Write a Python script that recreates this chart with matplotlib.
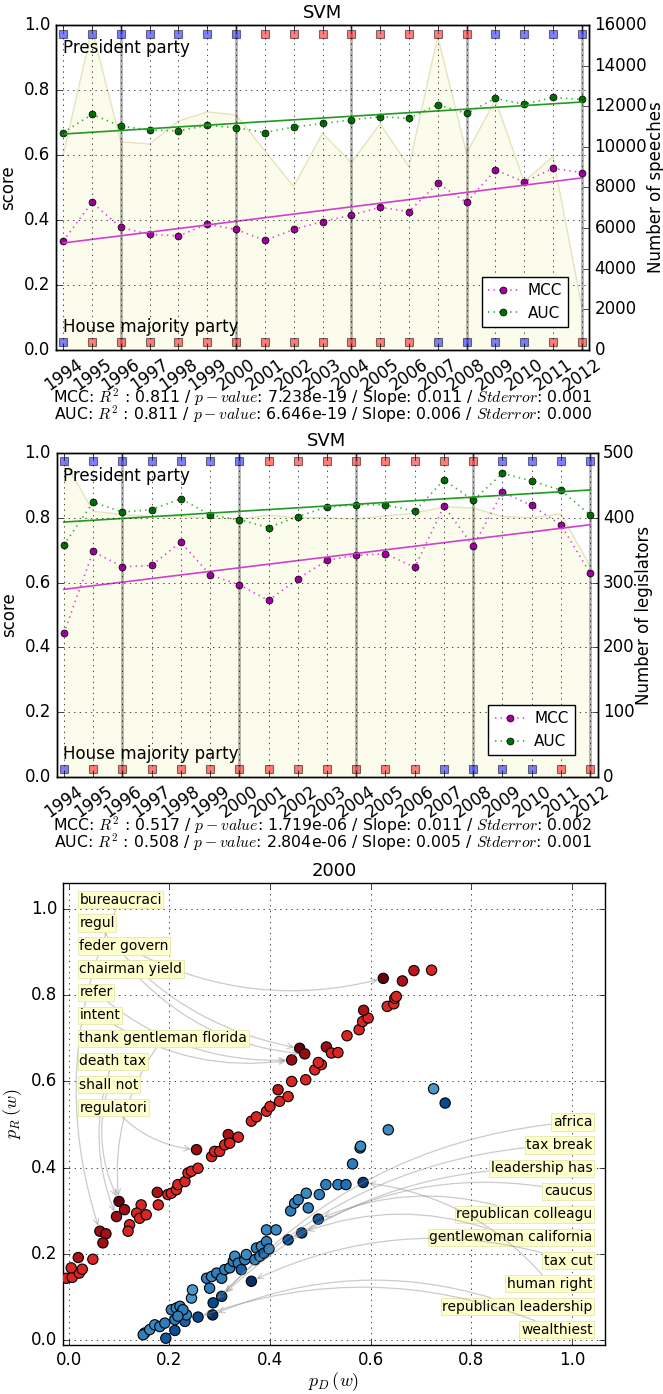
import numpy as np
import matplotlib
matplotlib.use('Agg')
import matplotlib.pyplot as plt

plt.style.use('classic')
plt.rcParams.update({
    'font.family': ['DejaVu Sans'],
    'mathtext.fontset': 'cm',
    'figure.facecolor': 'white',
    'savefig.facecolor': 'white',
})

# ---------------- data ----------------
years = list(range(1994, 2013))
election_years = [1996, 2000, 2004, 2008, 2012]
president_party = ['D'] * 7 + ['R'] * 8 + ['D'] * 4
house_party = ['D'] + ['R'] * 12 + ['D'] * 4 + ['R'] * 2

speech_mcc = [0.335, 0.454, 0.377, 0.356, 0.351, 0.387, 0.371, 0.337, 0.371, 0.395,
              0.415, 0.439, 0.426, 0.513, 0.454, 0.554, 0.517, 0.559, 0.546]
speech_auc = [0.669, 0.725, 0.689, 0.677, 0.674, 0.691, 0.684, 0.669, 0.686, 0.697,
              0.708, 0.718, 0.713, 0.755, 0.728, 0.774, 0.756, 0.777, 0.771]
n_speeches = [9600, 15800, 10250, 10140, 11270, 11720, 11570, 9800, 8040, 10670,
              9220, 11130, 9030, 15430, 9680, 12310, 8290, 9520, 2130]
speech_stats = ['MCC: $R^2$ : 0.811 / $p-value$: 7.238e-19 / Slope: 0.011 / $Stderror$: 0.001',
                'AUC: $R^2$ : 0.811 / $p-value$: 6.646e-19 / Slope: 0.006 / $Stderror$: 0.000']

legis_mcc = [0.443, 0.696, 0.649, 0.653, 0.725, 0.624, 0.593, 0.545, 0.611, 0.669,
             0.684, 0.689, 0.647, 0.836, 0.712, 0.879, 0.838, 0.778, 0.629]
legis_auc = [0.716, 0.848, 0.818, 0.825, 0.859, 0.809, 0.794, 0.770, 0.804, 0.833,
             0.840, 0.840, 0.820, 0.917, 0.854, 0.937, 0.914, 0.885, 0.809]
n_legislators = [490, 410, 405, 402, 402, 400, 398, 404, 400, 400,
                 398, 403, 407, 417, 415, 402, 400, 406, 325]
legis_stats = ['MCC: $R^2$ : 0.517 / $p-value$: 1.719e-06 / Slope: 0.011 / $Stderror$: 0.002',
               'AUC: $R^2$ : 0.508 / $p-value$: 2.804e-06 / Slope: 0.005 / $Stderror$: 0.001']

red_x = [-0.005, 0.007, 0.021, 0.027, 0.005, 0.019, 0.048, 0.062, 0.074, 0.068, 0.100, 0.111,
         0.095, 0.144, 0.135, 0.121, 0.118, 0.141, 0.154, 0.178, 0.176, 0.197, 0.204, 0.214,
         0.217, 0.231, 0.237, 0.244, 0.257, 0.254, 0.284, 0.290, 0.300, 0.310, 0.317, 0.337,
         0.320, 0.363, 0.373, 0.393, 0.400, 0.419, 0.436, 0.416, 0.443, 0.471, 0.489, 0.502,
         0.496, 0.443, 0.459, 0.469, 0.512, 0.522, 0.535, 0.553, 0.577, 0.584, 0.595, 0.586,
         0.633, 0.646, 0.648, 0.651, 0.625, 0.663, 0.686, 0.721]
red_y = [0.144, 0.146, 0.156, 0.165, 0.168, 0.192, 0.188, 0.253, 0.247, 0.226, 0.322, 0.303,
         0.287, 0.314, 0.295, 0.268, 0.253, 0.283, 0.291, 0.314, 0.343, 0.338, 0.341, 0.349,
         0.361, 0.368, 0.388, 0.392, 0.399, 0.442, 0.426, 0.438, 0.438, 0.453, 0.477, 0.471,
         0.457, 0.508, 0.518, 0.531, 0.542, 0.554, 0.565, 0.581, 0.600, 0.604, 0.627, 0.639,
         0.644, 0.650, 0.677, 0.664, 0.680, 0.666, 0.667, 0.706, 0.720, 0.739, 0.747, 0.765,
         0.774, 0.780, 0.793, 0.797, 0.839, 0.833, 0.857, 0.858]
red_shade = [0.7, 0.7, 0.7, 0.7, 0.7, 0.85, 0.7, 0.88, 0.88, 0.88, 1.0, 0.88,
             0.88, 0.7, 0.7, 0.7, 0.7, 0.7, 0.7, 0.7, 0.85, 0.7, 0.7, 0.7,
             0.7, 0.7, 0.7, 0.7, 0.7, 0.9, 0.7, 0.7, 0.7, 0.7, 0.85, 0.7,
             0.7, 0.7, 0.7, 0.7, 0.7, 0.7, 0.7, 0.8, 0.7, 0.7, 0.7, 0.7,
             0.7, 0.9, 1.0, 0.9, 0.88, 0.7, 0.7, 0.7, 0.7, 0.7, 0.7, 0.85,
             0.7, 0.7, 0.7, 0.7, 1.0, 0.85, 0.8, 0.7]

blue_x = [0.151, 0.148, 0.161, 0.171, 0.181, 0.191, 0.193, 0.211, 0.211, 0.204, 0.214, 0.221,
          0.224, 0.231, 0.234, 0.227, 0.217, 0.244, 0.246, 0.257, 0.286, 0.287, 0.304, 0.280,
          0.274, 0.284, 0.294, 0.304, 0.310, 0.320, 0.327, 0.330, 0.337, 0.343, 0.350, 0.353,
          0.363, 0.370, 0.373, 0.380, 0.383, 0.388, 0.393, 0.393, 0.412, 0.398, 0.436, 0.463,
          0.441, 0.449, 0.456, 0.472, 0.476, 0.496, 0.498, 0.511, 0.535, 0.551, 0.585, 0.564,
          0.579, 0.580, 0.635, 0.725, 0.748]
blue_y = [0.017, 0.013, 0.025, 0.036, 0.032, 0.040, 0.005, 0.023, 0.048, 0.071, 0.075, 0.079,
          0.063, 0.044, 0.059, 0.071, 0.056, 0.098, 0.117, 0.054, 0.059, 0.087, 0.102, 0.121,
          0.144, 0.148, 0.156, 0.144, 0.164, 0.168, 0.183, 0.195, 0.179, 0.164, 0.187, 0.199,
          0.137, 0.187, 0.214, 0.195, 0.218, 0.202, 0.229, 0.256, 0.256, 0.212, 0.233, 0.249,
          0.300, 0.318, 0.326, 0.341, 0.307, 0.281, 0.338, 0.361, 0.361, 0.361, 0.366, 0.409,
          0.446, 0.450, 0.488, 0.583, 0.550]
blue_shade = [0.6, 0.7, 0.65, 0.65, 0.7, 0.7, 0.85, 0.88, 0.7, 0.7, 0.65, 0.7,
              0.7, 0.8, 0.7, 0.7, 0.7, 0.6, 0.6, 0.9, 1.0, 0.9, 0.9, 0.7,
              0.7, 0.65, 0.7, 0.7, 0.7, 0.7, 0.7, 0.65, 0.7, 0.8, 0.7, 0.65,
              1.0, 0.7, 0.7, 0.7, 0.65, 0.8, 0.7, 0.65, 0.65, 0.7, 0.9, 0.9,
              0.7, 0.65, 0.7, 0.65, 0.7, 0.9, 0.7, 0.7, 0.7, 0.75, 0.95, 0.7,
              0.65, 0.65, 0.65, 0.6, 0.9]

rep_words = ['bureaucraci', 'regul', 'feder govern', 'chairman yield', 'refer', 'intent',
             'thank gentleman florida', 'death tax', 'shall not', 'regulatori']
rep_target_x = [0.062, 0.459, 0.625, 0.469, 0.443, 0.443, 0.100, 0.095, 0.100, 0.254]
rep_target_y = [0.253, 0.677, 0.839, 0.664, 0.650, 0.650, 0.322, 0.287, 0.322, 0.442]

dem_words = ['africa', 'tax break', 'leadership has', 'caucus', 'republican colleagu',
             'gentlewoman california', 'tax cut', 'human right', 'republican leadership',
             'wealthiest']
dem_target_x = [0.304, 0.287, 0.304, 0.436, 0.496, 0.463, 0.363, 0.585, 0.286, 0.257]
dem_target_y = [0.102, 0.087, 0.102, 0.233, 0.281, 0.249, 0.137, 0.366, 0.059, 0.054]

# ---------------- figure ----------------
W, H = 663, 1394
fig = plt.figure(figsize=(W / 100, H / 100), dpi=100)


def px_rect(left, right, top, bottom):
    return [left / W, 1 - bottom / H, (right - left) / W, (bottom - top) / H]


party_color = {'D': 'b', 'R': 'r'}


def trend_panel(rect, mcc, auc, counts, count_max, count_label, stats, stats_y,
                pres_y, house_y, legend_anchor):
    ax = fig.add_axes(rect)
    axr = ax.twinx()
    ax.set_zorder(axr.get_zorder() + 1)
    ax.patch.set_visible(False)

    axr.fill_between(years, 0, counts, facecolor='#fcfcec', edgecolor='none')
    axr.plot(years, counts, color='#e4e4bc', lw=1)
    axr.set_ylim(0, count_max)
    axr.set_ylabel(count_label, labelpad=0)

    for ey in election_years:
        ax.axvline(ey, color='k', alpha=0.3, lw=2)

    for yr, pp, hp in zip(years, president_party, house_party):
        ax.plot([yr], [pres_y], 's', color=party_color[pp], alpha=0.5, ms=5.5, mew=0.8)
        ax.plot([yr], [house_y], 's', color=party_color[hp], alpha=0.5, ms=5.5, mew=0.8)

    ax.plot(years, mcc, linestyle=':', color='#e040e0', marker='o', mfc='#a000a0',
            mec='k', mew=0.5, ms=5, lw=1.2, label='MCC')
    ax.plot(years, auc, linestyle=':', color='#30b030', marker='o', mfc='#007000',
            mec='k', mew=0.5, ms=5, lw=1.2, label='AUC')

    xs = np.array(years, dtype=float)
    for vals, col in ((mcc, '#d040d0'), (auc, '#229922')):
        k, b = np.polyfit(xs, vals, 1)
        ax.plot(xs, k * xs + b, '-', color=col, lw=1.2)

    ax.text(1993.98, 0.915, 'President party', fontsize=12, va='baseline')
    ax.text(1993.98, 0.055, 'House majority party', fontsize=12, va='baseline')

    ax.set_xlim(1993.75, 2012.25)
    ax.set_ylim(0, 1)
    ax.set_xticks(years)
    ax.set_xticklabels([str(y) for y in years], rotation=35)
    ax.set_yticks(np.arange(0, 1.01, 0.2))
    ax.grid(True)
    ax.set_ylabel('score')
    ax.set_title('SVM', fontsize=13)
    ax.legend(loc='lower right', bbox_to_anchor=legend_anchor, borderaxespad=0,
              numpoints=1, fontsize=11, handlelength=2.0, handletextpad=0.6)
    fig.text(322.6 / W, 1 - stats_y / H, '\n'.join(stats), fontsize=11.3, ha='center',
             va='center', linespacing=0.74, multialignment='center')
    return ax


trend_panel(px_rect(56, 589, 25, 350), speech_mcc, speech_auc, n_speeches, 16000,
            'Number of speeches', speech_stats, 406, 0.972, 0.025, (0.961, 0.071))
trend_panel(px_rect(56.5, 597.5, 453, 777), legis_mcc, legis_auc, n_legislators, 500,
            'Number of legislators', legis_stats, 834, 0.975, 0.025, (0.958, 0.068))

# scatter panel
ax3 = fig.add_axes(px_rect(63, 605, 883, 1345))
ax3.scatter(red_x, red_y, c=red_shade, cmap='Reds', vmin=0, vmax=1, s=55,
            edgecolors='k', linewidths=0.8, zorder=3)
ax3.scatter(blue_x, blue_y, c=blue_shade, cmap='Blues', vmin=0, vmax=1, s=55,
            edgecolors='k', linewidths=0.8, zorder=3)

box = dict(boxstyle='square,pad=0.12', fc='#ffffcc', ec='#e6e6b0', lw=0.6)
arrow = dict(arrowstyle='->', color='0.55', alpha=0.45, lw=0.9,
             connectionstyle='arc3,rad=0.2', shrinkA=0, shrinkB=4)
for i, (w, tx, ty) in enumerate(zip(rep_words, rep_target_x, rep_target_y)):
    ax3.annotate(w, xy=(tx, ty), xytext=(0.021, 1.021 - i * 0.0535), ha='left', va='center',
                 fontsize=10, bbox=box, arrowprops=arrow, zorder=4)
for i, (w, tx, ty) in enumerate(zip(dem_words, dem_target_x, dem_target_y)):
    ax3.annotate(w, xy=(tx, ty), xytext=(1.041, 0.506 - i * 0.0535), ha='right', va='center',
                 fontsize=10, bbox=box, arrowprops=arrow, zorder=4)

ax3.set_xlim(-0.0113, 1.0656)
ax3.set_ylim(-0.0107, 1.06)
ax3.set_xticks(np.arange(0, 1.01, 0.2))
ax3.set_yticks(np.arange(0, 1.01, 0.2))
ax3.grid(True)
ax3.set_title('2000', fontsize=13)
ax3.set_xlabel(r'$p_D\,(w)$', fontsize=13, labelpad=1)
ax3.set_ylabel(r'$p_R\,(w)$', fontsize=13)

fig.savefig('out.png', dpi=100)
